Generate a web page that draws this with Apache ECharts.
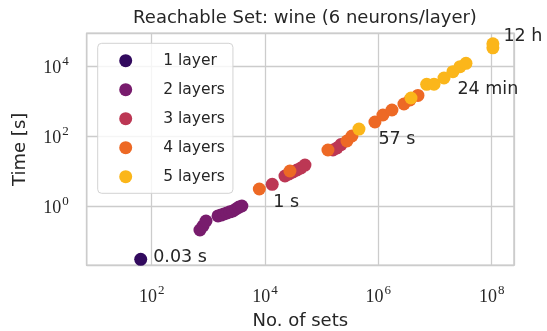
<!DOCTYPE html>
<html>
<head>
<meta charset="utf-8">
<script src="https://cdn.jsdelivr.net/npm/echarts@6/dist/echarts.min.js"></script>
<style>
  html, body { margin: 0; padding: 0; background: #ffffff; }
  #chart { width: 547px; height: 331px; }
</style>
</head>
<body>
<div id="chart"></div>
<script>
// Layer names and colours (inferno palette, 5 steps)
const layerNames = ['1 layer', '2 layers', '3 layers', '4 layers', '5 layers'];
const layerColors = ['#320A5E', '#781C6D', '#BC3754', '#ED6925', '#FBB61A'];

// No. of sets / time in seconds for each network depth
const sets1 = [64];
const time1 = [0.03];

const sets2 = [711, 804, 908, 1480, 1670, 1890, 2130, 2410, 2720, 3080, 3470, 3900];
const time2 = [0.206, 0.268, 0.373, 0.52, 0.55, 0.59, 0.63, 0.68, 0.72, 0.82, 0.93, 1.0];

const sets3 = [13400, 22500, 26500, 31100, 36600, 43100, 50700, 158000, 186000, 219000];
const time3 = [4.17, 7.2, 8.2, 9.4, 10.7, 12.2, 14.8, 39.8, 45.4, 57];

const sets4 = [7930, 27500, 129000, 279000, 342000, 871000, 1205000, 1738000, 2830000, 3610000, 5000000];
const time4 = [3.06, 10, 39.8, 72, 100, 251, 398, 553, 821, 1068, 1440];

const sets5 = [455000, 3770000, 7130000, 9600000, 14400000, 20700000, 27600000, 35200000, 105000000, 105000000];
const time5 = [158, 1218, 3000, 3020, 4540, 6870, 9550, 11900, 33000, 43200];

// Text shown next to the slowest run of each depth
const timeLabels = ['0.03 s', '1 s', '57 s', '24 min', '12 h'];

// Axis tick exponents (decades) that carry a label
const xTickExponents = [2, 4, 6, 8];
const yTickExponents = [0, 2, 4];

const setsByLayer = [sets1, sets2, sets3, sets4, sets5];
const timeByLayer = [time1, time2, time3, time4, time5];

// Annotation placement relative to its point (pixels)
const labelOffsets = [[1, -2], [20, -4], [26, -5], [28, -6], [-1, -7]];

const sansFont = '"DejaVu Sans", sans-serif';
const serifFont = '"Liberation Serif", "DejaVu Serif", serif';
const textColor = '#262626';
const gridColor = '#cccccc';

function powerLabel(exps) {
  return function (v) {
    const r = Math.round(v);
    if (Math.abs(v - r) > 1e-6 || exps.indexOf(r) < 0) return '';
    return '{b|10}{s|' + r + '}';
  };
}

const powerRich = {
  b: { fontFamily: serifFont, fontSize: 18, color: textColor, lineHeight: 22, verticalAlign: 'bottom' },
  s: { fontFamily: serifFont, fontSize: 13, color: textColor, lineHeight: 12, verticalAlign: 'top', padding: [0, 0, 0, 1] }
};

function buildSeries(i) {
  const xs = setsByLayer[i];
  const ys = timeByLayer[i];
  const data = xs.map((x, j) => ({ value: [Math.log10(x), Math.log10(ys[j])] }));
  const k = ys.indexOf(Math.max.apply(null, ys));
  data[k].label = {
    show: true,
    formatter: timeLabels[i],
    position: 'right',
    distance: 5,
    offset: labelOffsets[i],
    fontFamily: sansFont,
    fontSize: 17.5,
    color: textColor
  };
  return {
    type: 'scatter',
    name: layerNames[i],
    data: data,
    symbol: 'circle',
    symbolSize: 13,
    itemStyle: { color: layerColors[i], opacity: 1 },
    emphasis: { disabled: true },
    clip: false,
    z: 2 + i
  };
}

const chart = echarts.init(document.getElementById('chart'), null, { renderer: 'canvas' });

chart.setOption({
  animation: false,
  backgroundColor: '#ffffff',
  title: {
    text: 'Reachable Set: wine (6 neurons/layer)',
    left: 300,
    textAlign: 'center',
    top: 4,
    textStyle: { fontFamily: sansFont, fontSize: 18, fontWeight: 'normal', color: textColor }
  },
  grid: {
    left: 86.7,
    right: 33,
    top: 33.3,
    bottom: 65.7,
    outerBoundsMode: 'none',
    containLabel: false,
    show: true,
    borderColor: gridColor,
    borderWidth: 1.5,
    backgroundColor: 'transparent'
  },
  legend: {
    orient: 'vertical',
    left: 97.7,
    top: 43.3,
    padding: [9.4, 8, 8.6, 21.5],
    itemWidth: 13,
    itemHeight: 13,
    itemGap: 13,
    icon: 'circle',
    backgroundColor: 'rgba(255,255,255,0.8)',
    borderColor: '#d3d3d3',
    borderWidth: 1,
    borderRadius: 4,
    textStyle: { fontFamily: sansFont, fontSize: 15.5, color: textColor, lineHeight: 16, padding: [0, 0, 0, 26] },
    data: layerNames
  },
  xAxis: {
    type: 'value',
    min: 0.853,
    max: 8.394,
    splitNumber: 4,
    name: 'No. of sets',
    nameLocation: 'middle',
    nameGap: 47,
    nameTextStyle: { fontFamily: sansFont, fontSize: 18, color: textColor },
    axisLine: { show: false },
    axisTick: { show: false },
    axisLabel: { formatter: powerLabel(xTickExponents), rich: powerRich, margin: 19, showMinLabel: false, showMaxLabel: false },
    splitLine: { show: true, lineStyle: { color: gridColor, width: 1.3 } }
  },
  yAxis: {
    type: 'value',
    min: -1.694,
    max: 4.934,
    splitNumber: 3,
    name: 'Time [s]',
    nameLocation: 'middle',
    nameRotate: 90,
    nameGap: 57,
    nameTextStyle: { fontFamily: sansFont, fontSize: 18, color: textColor },
    axisLine: { show: false },
    axisTick: { show: false },
    axisLabel: { formatter: powerLabel(yTickExponents), rich: powerRich, margin: 18, showMinLabel: false, showMaxLabel: false },
    splitLine: { show: true, lineStyle: { color: gridColor, width: 1.3 } }
  },
  series: [0, 1, 2, 3, 4].map(buildSeries)
});
</script>
</body>
</html>
